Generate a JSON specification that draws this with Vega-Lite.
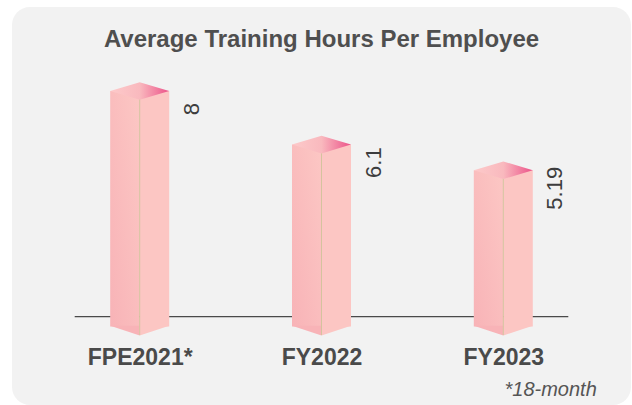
{
  "$schema": "https://vega.github.io/schema/vega-lite/v6.json",
  "width": 619,
  "height": 398,
  "autosize": "none",
  "padding": {"left": 12, "top": 7, "right": 1, "bottom": 0},
  "background": "#ffffff",
  "view": {"fill": "#f2f2f2", "stroke": null, "cornerRadius": 18},
  "title": {
    "text": "Average Training Hours Per Employee",
    "font": "Liberation Sans",
    "fontSize": 24,
    "fontWeight": "bold",
    "color": "#4f4f4f",
    "anchor": "middle",
    "offset": -45
  },
  "data": {
    "values": [
      {"period": "FPE2021*", "hours": 8},
      {"period": "FY2022", "hours": 6.1},
      {"period": "FY2023", "hours": 5.19}
    ]
  },
  "encoding": {
    "x": {
      "field": "period",
      "type": "nominal",
      "scale": {"type": "point", "padding": 0.7024, "domain": ["FPE2021*", "FY2022", "FY2023"]},
      "axis": {
        "title": null,
        "domain": false,
        "ticks": false,
        "grid": false,
        "labelAngle": 0,
        "labelFont": "Liberation Sans",
        "labelFontSize": 23,
        "labelFontWeight": "bold",
        "labelColor": "#4a4a4a",
        "labelPadding": 0,
        "labelBaseline": "alphabetic",
        "offset": -41
      }
    },
    "y": {"field": "hours", "type": "quantitative", "scale": {"domain": [-3.135, 10.979], "nice": false, "zero": false}, "axis": null}
  },
  "layer": [
    {
      "transform": [{"filter": "datum.period === 'FPE2021*'"}],
      "mark": {"type": "rule", "color": "#4a4a4a", "strokeWidth": 1.3, "xOffset": -65, "x2Offset": 65},
      "encoding": {
        "x2": {"datum": "FY2023"},
        "y": {"datum": 0, "type": "quantitative"}
      }
    },
    {
      "mark": {
        "type": "bar",
        "width": 29.5,
        "xOffset": -14.75,
        "y2Offset": 10,
        "stroke": null,
        "fill": {
          "gradient": "linear",
          "x1": 1, "y1": 0, "x2": 0, "y2": 1,
          "stops": [
            {"offset": 0, "color": "#fcc7c4"},
            {"offset": 1, "color": "#f8b3b7"}
          ]
        }
      },
      "encoding": {
        "y2": {"datum": 0}
      }
    },
    {
      "mark": {"type": "bar", "width": 29.5, "xOffset": 14.75, "y2Offset": 10, "stroke": null, "fill": "#fcc6c3"},
      "encoding": {
        "y2": {"datum": 0}
      }
    },
    {
      "mark": {"type": "point", "shape": "M -1 -0.03 L 0 -0.03 L 0 0.3 Z", "size": 3481, "filled": true, "opacity": 1, "fill": "#f8b3b7", "stroke": null, "yOffset": 10},
      "encoding": {
        "y": {"datum": 0, "type": "quantitative"}
      }
    },
    {
      "mark": {"type": "point", "shape": "M 0 -0.03 L 1 -0.03 L 0 0.3 Z", "size": 3481, "filled": true, "opacity": 1, "fill": "#fcc6c3", "stroke": null, "yOffset": 10},
      "encoding": {
        "y": {"datum": 0, "type": "quantitative"}
      }
    },
    {
      "mark": {"type": "rule", "color": "#d5c39e", "strokeWidth": 1, "yOffset": 8, "y2Offset": 18.5},
      "encoding": {
        "y2": {"datum": 0}
      }
    },
    {
      "mark": {
        "type": "point",
        "shape": "M -1 0 L 0 0.3 L 1 0 L 0 -0.3 Z",
        "size": 3481,
        "filled": true,
        "opacity": 1,
        "stroke": null,
        "fill": {
          "gradient": "linear",
          "x1": 0, "y1": 0, "x2": 1, "y2": 0,
          "stops": [
            {"offset": 0, "color": "#fdcaca"},
            {"offset": 0.5, "color": "#f9b9be"},
            {"offset": 1, "color": "#ec5289"}
          ]
        }
      }
    },
    {
      "mark": {"type": "text", "angle": 270, "font": "Liberation Sans", "fontSize": 22, "color": "#3d3d3d", "align": "center", "baseline": "middle", "xOffset": 52, "yOffset": 18},
      "encoding": {
        "text": {"field": "hours", "type": "quantitative"}
      }
    },
    {
      "transform": [{"filter": "datum.period === 'FY2023'"}],
      "mark": {"type": "text", "font": "Liberation Sans", "fontSize": 20, "fontStyle": "italic", "color": "#555555", "align": "right", "baseline": "alphabetic", "xOffset": 93.5, "yOffset": 79},
      "encoding": {
        "y": {"datum": 0, "type": "quantitative"},
        "text": {"value": "*18-month"}
      }
    }
  ]
}
